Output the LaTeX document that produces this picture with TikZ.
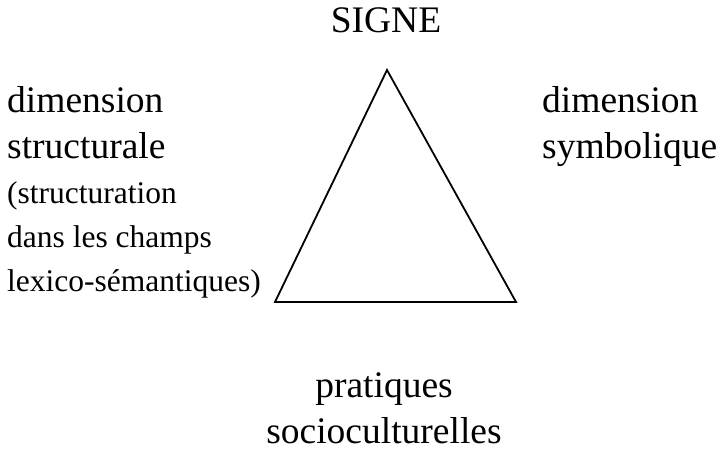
\documentclass[tikz,border=0pt]{standalone}
\usepackage{fontspec}
\setmainfont{Liberation Serif}
\usepackage{tikz}
\usetikzlibrary{positioning}

\begin{document}
\begin{tikzpicture}[
  x=1pt, y=-1pt,
  big/.style={inner sep=0pt, font=\fontsize{37.5}{40}\selectfont},
  small/.style={inner sep=0pt, font=\fontsize{31.5}{34}\selectfont},
  edge/.style={line width=1.8pt, line join=miter}
]
\useasboundingbox (0,0) rectangle (719,473);

% titles
\node[big, anchor=base] (signe) at (386,33) {SIGNE};

\node[big, anchor=base west]   (dimL)  at (7,113) {dimension};
\node[big, anchor=base west]   (struc) at (7,158) {structurale};
\node[small, anchor=base west] (paren) at (7,203) {(structuration};
\node[small, anchor=base west] (champ) at (7,247) {dans les champs};
\node[small, anchor=base west] (lexic) at (7,291) {lexico-sémantiques)};

\node[big, anchor=base west] (dimR) at (542,113) {dimension};
\node[big, anchor=base west] (symb) at (542,158) {symbolique};

\node[big, anchor=base] (prat)  at (384,397) {pratiques};
\node[big, anchor=base] (socio) at (384,443) {socioculturelles};

% triangle
\coordinate (top)   at (387,70);
\coordinate (left)  at (275,302);
\coordinate (right) at (516,302);
\draw[edge] (top) -- (left) -- (right) -- cycle;
\end{tikzpicture}
\end{document}
